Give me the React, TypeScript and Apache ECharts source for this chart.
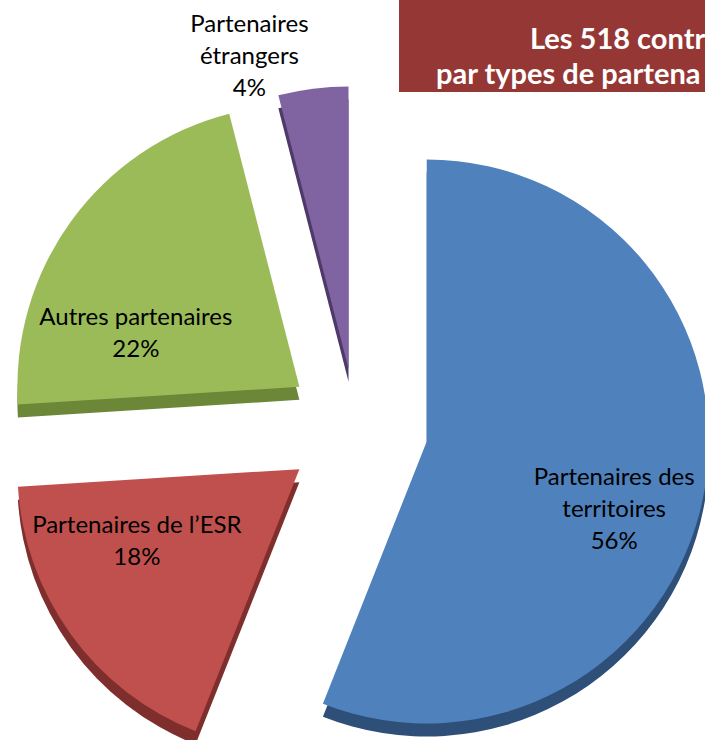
import React, { useEffect, useRef } from "react";
import * as echarts from "echarts";

// ---- data ----
const categories = [
  "Partenaires des\nterritoires",
  "Partenaires de l’ESR",
  "Autres partenaires",
  "Partenaires\nétrangers",
];
const values = [56, 18, 22, 4];
// title as it is visible (cut by the right edge in the reference)
const titleLines = ["Les 518 contr", "par types de partena"];

// ---- styles ----
const topColors = ["#4F81BD", "#C0504D", "#9BBB59", "#8064A2"];
const sideColors = ["#2E4F78", "#7E2E2C", "#6B8737", "#4D3A68"];
const explodeOffsets = [72, 70, 70, 60];
const labelShift = [
  [46, 39],
  [-46, -14],
  [-47, 29],
  [-81, -171],
];
const CENTER = [356, 428];
const RADIUS = 282;
const DEPTH = [0, 13];
const FONT = "Lato, 'Open Sans', sans-serif";

function buildSeries() {
  const series: any[] = [];
  const make = (i: number, isSide: boolean) => ({
    type: "pie",
    startAngle: 90,
    clockwise: true,
    radius: RADIUS,
    center: isSide ? [CENTER[0] + DEPTH[0], CENTER[1] + DEPTH[1]] : CENTER,
    selectedMode: "multiple",
    selectedOffset: explodeOffsets[i],
    silent: true,
    avoidLabelOverlap: false,
    emphasis: { disabled: true },
    z: isSide ? 1 : 2,
    labelLine: { show: false },
    label: {
      show: !isSide,
      position: "inside",
      formatter: "{b}\n{c}%",
      color: "#000",
      fontFamily: FONT,
      fontSize: 24,
      lineHeight: 32,
      align: "center",
    },
    labelLayout: { dx: labelShift[i][0], dy: labelShift[i][1] },
    data: categories.map((name, j) => ({
      name,
      value: values[j],
      selected: j === i,
      itemStyle: {
        color: j === i ? (isSide ? sideColors[i] : topColors[i]) : "rgba(0,0,0,0)",
        borderWidth: 0,
      },
      label: { show: !isSide && j === i },
    })),
  });
  values.forEach((_, i) => series.push(make(i, true)));
  values.forEach((_, i) => series.push(make(i, false)));
  return series;
}

export default function App() {
  const ref = useRef<HTMLDivElement>(null);
  useEffect(() => {
    document.body.style.margin = "0";
    const chart = echarts.init(ref.current!, undefined, { renderer: "svg" });
    chart.setOption({
      animation: false,
      backgroundColor: "#fff",
      graphic: [
        {
          type: "rect",
          z: 10,
          shape: { x: 399, y: 0, width: 306, height: 92 },
          style: { fill: "#953735" },
        },
        {
          type: "text",
          z: 11,
          x: 530,
          y: 23,
          style: {
            text: titleLines[0],
            fill: "#fff",
            font: `bold 29px ${FONT}`,
            textVerticalAlign: "alphabetic",
          },
        },
        {
          type: "text",
          z: 11,
          x: 436,
          y: 58,
          style: {
            text: titleLines[1],
            fill: "#fff",
            font: `bold 29px ${FONT}`,
            textVerticalAlign: "alphabetic",
          },
        },
      ],
      series: buildSeries(),
    });
    return () => chart.dispose();
  }, []);
  return <div ref={ref} style={{ width: 705, height: 740 }} />;
}
